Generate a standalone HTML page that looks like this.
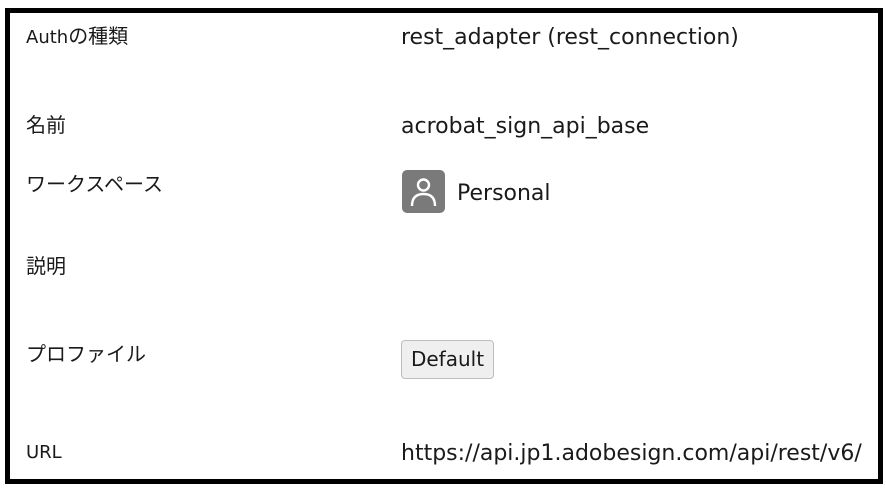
<!DOCTYPE html>
<html><head><meta charset="utf-8"><style>
body{margin:0;width:886px;height:490px;background:#fff;position:relative;font-family:"DejaVu Sans","Noto Sans CJK JP",sans-serif;color:#1a1a1a;overflow:hidden}
.box{position:absolute;left:5px;top:8px;width:868px;height:466px;border:5px solid #000}
.l{position:absolute;left:26px;font-size:18px;line-height:20px}
.l .j{font-size:20px}
.v{position:absolute;left:401px;font-size:22px;line-height:26px;white-space:nowrap}
.icon{position:absolute;left:402px;top:170px;width:43px;height:43px;background:#7a7a7a;border-radius:5px}
.btn{position:absolute;left:401px;top:340px;width:93px;height:39px;border:1px solid #bdbdbd;border-radius:4px;background:#efefef;font-size:20px;line-height:37px;text-align:center;box-sizing:border-box}
</style></head><body>
<div class="box"></div>
<div class="l" style="top:26px">Auth<span class="j">の種類</span></div>
<div class="v" style="top:25px">rest_adapter (rest_connection)</div>
<div class="l" style="top:115px"><span class="j">名前</span></div>
<div class="v" style="top:114px">acrobat_sign_api_base</div>
<div class="l" style="top:174px"><span class="j">ワークスペース</span></div>
<div class="icon"><svg width="43" height="43" viewBox="0 0 43 43"><circle cx="21.5" cy="15" r="5.5" fill="none" stroke="#fff" stroke-width="2.4"/><path d="M10 36 Q10 24 21.5 24 Q33 24 33 36" fill="none" stroke="#fff" stroke-width="2.4"/></svg></div>
<div class="v" style="left:457px;top:181px">Personal</div>
<div class="l" style="top:256px"><span class="j">説明</span></div>
<div class="l" style="top:344px"><span class="j">プロファイル</span></div>
<div class="btn">Default</div>
<div class="l" style="top:443px">URL</div>
<div class="v" style="top:441px">https://api.jp1.adobesign.com/api/rest/v6/</div>
</body></html>
